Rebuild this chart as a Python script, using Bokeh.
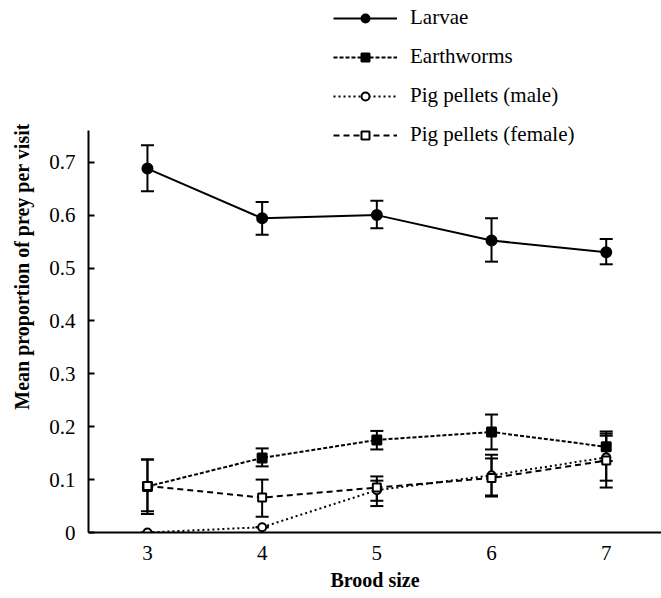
from bokeh.plotting import figure
from bokeh.models import (ColumnDataSource, Whisker, TeeHead, Legend, LegendItem,
                          FixedTicker, Range1d)
from bokeh.embed import file_html
from bokeh.resources import INLINE

brood = [3, 4, 5, 6, 7]

larvae = [0.688, 0.594, 0.600, 0.552, 0.530]
larvae_lo = [0.645, 0.563, 0.575, 0.512, 0.507]
larvae_hi = [0.732, 0.625, 0.627, 0.594, 0.555]

worms = [0.087, 0.141, 0.175, 0.190, 0.162]
worms_lo = [0.035, 0.125, 0.157, 0.157, 0.135]
worms_hi = [0.138, 0.159, 0.192, 0.223, 0.191]

male = [0.0, 0.010, 0.080, 0.108, 0.142]
male_lo = [0.0, 0.010, 0.050, 0.070, 0.098]
male_hi = [0.0, 0.010, 0.098, 0.140, 0.183]

female = [0.088, 0.066, 0.085, 0.103, 0.136]
female_lo = [0.040, 0.030, 0.060, 0.068, 0.085]
female_hi = [0.138, 0.100, 0.106, 0.147, 0.187]

y_ticks = [0, 0.1, 0.2, 0.3, 0.4, 0.5, 0.6, 0.7]

FONT = "Liberation Serif"

p = figure(width=661, height=598, output_backend="svg", toolbar_location=None,
           x_range=Range1d(2.486, 7.482), y_range=Range1d(0, 1.0057),
           min_border_left=88, min_border_right=0, min_border_top=0,
           min_border_bottom=66)
p.outline_line_color = None
p.grid.visible = False
p.background_fill_color = "white"

series = [
    ("Larvae", larvae, larvae_lo, larvae_hi, "solid", "circle", "black", 10),
    ("Earthworms", worms, worms_lo, worms_hi, "4 2", "square", "black", 9),
    ("Pig pellets (male)", male, male_lo, male_hi, "2 3", "circle", "white", 8),
    ("Pig pellets (female)", female, female_lo, female_hi, "6 4", "square", "white", 8),
]

items = []
for name, vals, lo, hi, dash, marker, fill, size in series:
    src = ColumnDataSource(dict(x=brood, y=vals, lower=lo, upper=hi))
    w = Whisker(base="x", upper="upper", lower="lower", source=src,
                line_width=2, line_color="black",
                upper_head=TeeHead(size=13, line_width=2, line_color="black"),
                lower_head=TeeHead(size=13, line_width=2, line_color="black"))
    p.add_layout(w)
    ln = p.line("x", "y", source=src, line_width=2, line_color="black", line_dash=dash)
    sc = p.scatter("x", "y", source=src, marker=marker, size=size,
                   fill_color=fill, line_color="black", line_width=2)
    items.append(LegendItem(label=name, renderers=[ln, sc]))

legend = Legend(items=items, location=(245, 385), orientation="vertical",
                glyph_width=64, glyph_height=20, label_height=20, spacing=14,
                label_standoff=13, padding=0, margin=0,
                border_line_color=None, background_fill_alpha=0,
                label_text_font=FONT, label_text_font_size="21px",
                label_text_color="black")
p.add_layout(legend, "center")

p.yaxis.ticker = FixedTicker(ticks=y_ticks)
p.yaxis.bounds = (0, 0.760)
p.yaxis.major_label_overrides = {0: "0"}
p.xaxis.ticker = FixedTicker(ticks=brood)
p.yaxis.minor_tick_line_color = None
p.xaxis.minor_tick_line_color = None
p.xaxis.major_tick_line_color = None
p.xaxis.major_tick_out = 0
p.xaxis.major_tick_in = 0
p.yaxis.major_tick_in = 6
p.yaxis.major_tick_out = 0
p.yaxis.major_tick_line_width = 2
for ax in (p.xaxis, p.yaxis):
    ax.axis_line_width = 2
    ax.axis_line_color = "black"
    ax.major_label_text_font = FONT
    ax.major_label_text_font_size = "21px"
    ax.major_label_text_color = "black"
    ax.axis_label_text_font = FONT
    ax.axis_label_text_font_size = "20px"
    ax.axis_label_text_font_style = "bold"
    ax.axis_label_text_color = "black"
p.yaxis.major_label_standoff = 13
p.xaxis.major_label_standoff = 13
p.xaxis.axis_label = "Brood size"
p.yaxis.axis_label = "Mean proportion of prey per visit"
p.yaxis.axis_label_standoff = 13
p.xaxis.axis_label_standoff = 6

open("out.html", "w").write(file_html(p, INLINE))
